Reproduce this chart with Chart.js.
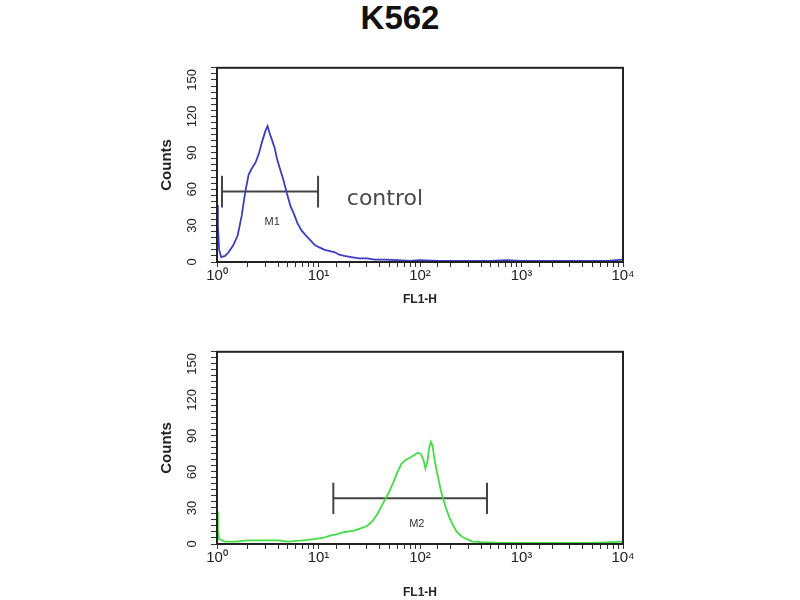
<!DOCTYPE html>
<html>
<head>
<meta charset="utf-8">
<script src="https://cdn.jsdelivr.net/npm/chart.js@4.4.1/dist/chart.umd.min.js"></script>
<style>
  body { margin: 0; background: #fff; }
  #wrap { position: relative; width: 800px; height: 600px; }
  #title { position: absolute; left: 0; top: 0; width: 800px; text-align: center;
           font: bold 33px "Liberation Sans", Arial, sans-serif; color: #111; line-height: 36px; }
  .panel { position: absolute; left: 150px; width: 500px; }
</style>
</head>
<body>
<div id="wrap">
  <div id="title">K562</div>
  <div class="panel" style="top:52px;height:263px"><canvas id="chartControl"></canvas></div>
  <div class="panel" style="top:336px;height:264px"><canvas id="chartSample"></canvas></div>
</div>
<script>
const controlX = [1.0, 1.02, 1.05, 1.1, 1.2, 1.3, 1.45, 1.6, 1.75, 1.9, 2.05, 2.2, 2.4, 2.6, 2.8, 3.0, 3.15,
  3.3, 3.5, 3.7, 3.9, 4.2, 4.5, 4.9, 5.3, 5.7, 6.2, 6.8, 7.5, 8.3, 9.2, 10.2, 11.5, 13, 14.5, 16, 18, 21,
  25, 30, 36, 45, 60, 80, 100, 150, 200, 300, 500, 700, 1000, 2000, 4000, 7000, 10000];
const controlCounts = [47, 30, 10, 4, 5, 8, 14, 22, 38, 58, 72, 77, 82, 90, 100, 108, 112,
  106, 100, 94, 85, 76, 68, 56, 46, 40, 32, 26, 22, 18, 14, 12, 10, 9, 8, 6, 5, 4,
  3, 3, 2, 2, 1.5, 1, 1.5, 1, 1, 1, 1, 1.5, 1, 1, 1, 1, 2];

const sampleX = [1.0, 1.02, 1.05, 1.2, 1.5, 2, 3, 4, 5, 7, 9, 11, 13, 15, 18, 22, 26, 30, 34, 38, 42, 46,
  50, 55, 60, 66, 72, 80, 88, 95, 102, 108, 113, 118, 123, 128, 133, 138, 145, 152, 160, 170, 180, 195,
  210, 230, 260, 290, 330, 400, 600, 1000, 2000, 5000, 10000];
const sampleCounts = [27, 12, 4, 2, 2, 3, 3, 3, 2, 3, 4, 5, 7, 8, 10, 11, 13, 15, 19, 25, 32, 38,
  44, 52, 60, 67, 70, 72, 74, 76, 75, 70, 63, 68, 80, 85, 82, 72, 62, 54, 45, 37, 30, 22,
  16, 10, 6, 4, 2, 1.5, 1, 1, 1, 1, 2];

// marcadores (inicio, fin, altura)
const gateM1 = [1.12, 9.9, 58];
const gateM2 = [14, 457, 38];

const yLabelTicks = [0, 30, 60, 90, 120, 150];
const supers = ["\u2070", "\u00b9", "\u00b2", "\u00b3", "\u2074"];

// CAJA ALREDEDOR DEL AREA
const boxPlugin = {
  id: "box",
  afterDatasetsDraw(chart) {
    const a = chart.chartArea, ctx = chart.ctx;
    ctx.save();
    ctx.strokeStyle = "#222";
    ctx.lineWidth = 2;
    ctx.strokeRect(a.left, a.top, a.right - a.left, a.bottom - a.top);
    ctx.restore();
  }
};

// TEXTOS DENTRO DEL GRAFICO
const notesPlugin = {
  id: "notes",
  afterDatasetsDraw(chart, args, opts) {
    const ctx = chart.ctx, xs = chart.scales.x, ys = chart.scales.y;
    ctx.save();
    (opts.items || []).forEach(it => {
      ctx.font = it.font;
      ctx.fillStyle = it.color;
      ctx.textAlign = it.align || "center";
      ctx.textBaseline = "middle";
      ctx.fillText(it.text, xs.getPixelForValue(it.x), ys.getPixelForValue(it.y));
    });
    ctx.restore();
  }
};

function gateData(g) {
  const cap = 13;
  return [
    { x: g[0], y: g[2] - cap }, { x: g[0], y: g[2] + cap }, { x: g[0], y: g[2] },
    { x: g[1], y: g[2] }, { x: g[1], y: g[2] + cap }, { x: g[1], y: g[2] - cap }
  ];
}

function makeHist(id, xs, counts, color, gate, notes, xHeight, titleLift) {
  const pts = xs.map((x, i) => ({ x: x, y: counts[i] }));
  return new Chart(document.getElementById(id), {
    type: "scatter",
    data: {
      datasets: [
        { data: pts, showLine: true, borderColor: color, borderWidth: 1.8, pointRadius: 0, tension: 0 },
        { data: gateData(gate), showLine: true, borderColor: "#444", borderWidth: 2, pointRadius: 0, tension: 0 }
      ]
    },
    options: {
      responsive: true,
      maintainAspectRatio: false,
      animation: false,
      layout: { padding: { left: 8, right: 27, top: 0, bottom: 0 } },
      plugins: {
        legend: { display: false },
        tooltip: { enabled: false },
        notes: { items: notes }
      },
      scales: {
        x: {
          type: "logarithmic",
          min: 1,
          max: 10000,
          afterFit: s => { s.height = xHeight; },
          border: { display: true, color: "#222", width: 2 },
          grid: { drawOnChartArea: false, drawTicks: true, tickLength: 5, color: "#333" },
          ticks: {
            autoSkip: false, maxRotation: 0, minRotation: 0, padding: 0,
            color: "#222", font: { family: "Liberation Sans", size: 15 },
            callback: v => {
              const l = Math.log10(v);
              const r = Math.round(l);
              return Math.abs(l - r) < 1e-9 ? "10" + supers[r] : "";
            }
          },
          title: { display: true, text: "FL1-H", color: "#222", padding: { top: 0, bottom: titleLift },
                   font: { family: "Liberation Sans", size: 12, weight: "bold" } }
        },
        y: {
          min: 0,
          max: 160,
          afterFit: s => { s.width = 59; },
          border: { display: true, color: "#222", width: 2 },
          grid: { drawOnChartArea: false, drawTicks: true, tickLength: 6, color: "#333" },
          ticks: {
            stepSize: 5, autoSkip: false, minRotation: 90, maxRotation: 90, padding: 8,
            crossAlign: "center",
            color: "#222", font: { family: "Liberation Sans", size: 13 },
            callback: v => yLabelTicks.includes(v) ? String(v) : ""
          },
          title: { display: true, text: "Counts", color: "#222", padding: { top: 0, bottom: 4 },
                   font: { family: "Liberation Sans", size: 15, weight: "bold" } }
        }
      }
    },
    plugins: [boxPlugin, notesPlugin]
  });
}

makeHist("chartControl", controlX, controlCounts, "#3c3cc4", gateM1, [
  { text: "M1", x: 3.5, y: 33, font: "11px 'Liberation Sans'", color: "#333" },
  { text: "control", x: 19, y: 52, font: "22px 'DejaVu Sans'", color: "#4a4a4a", align: "left" }
], 53, 8);

makeHist("chartSample", sampleX, sampleCounts, "#45dd45", gateM2, [
  { text: "M2", x: 93, y: 17, font: "11px 'Liberation Sans'", color: "#333" }
], 56, 0);
</script>
</body>
</html>
